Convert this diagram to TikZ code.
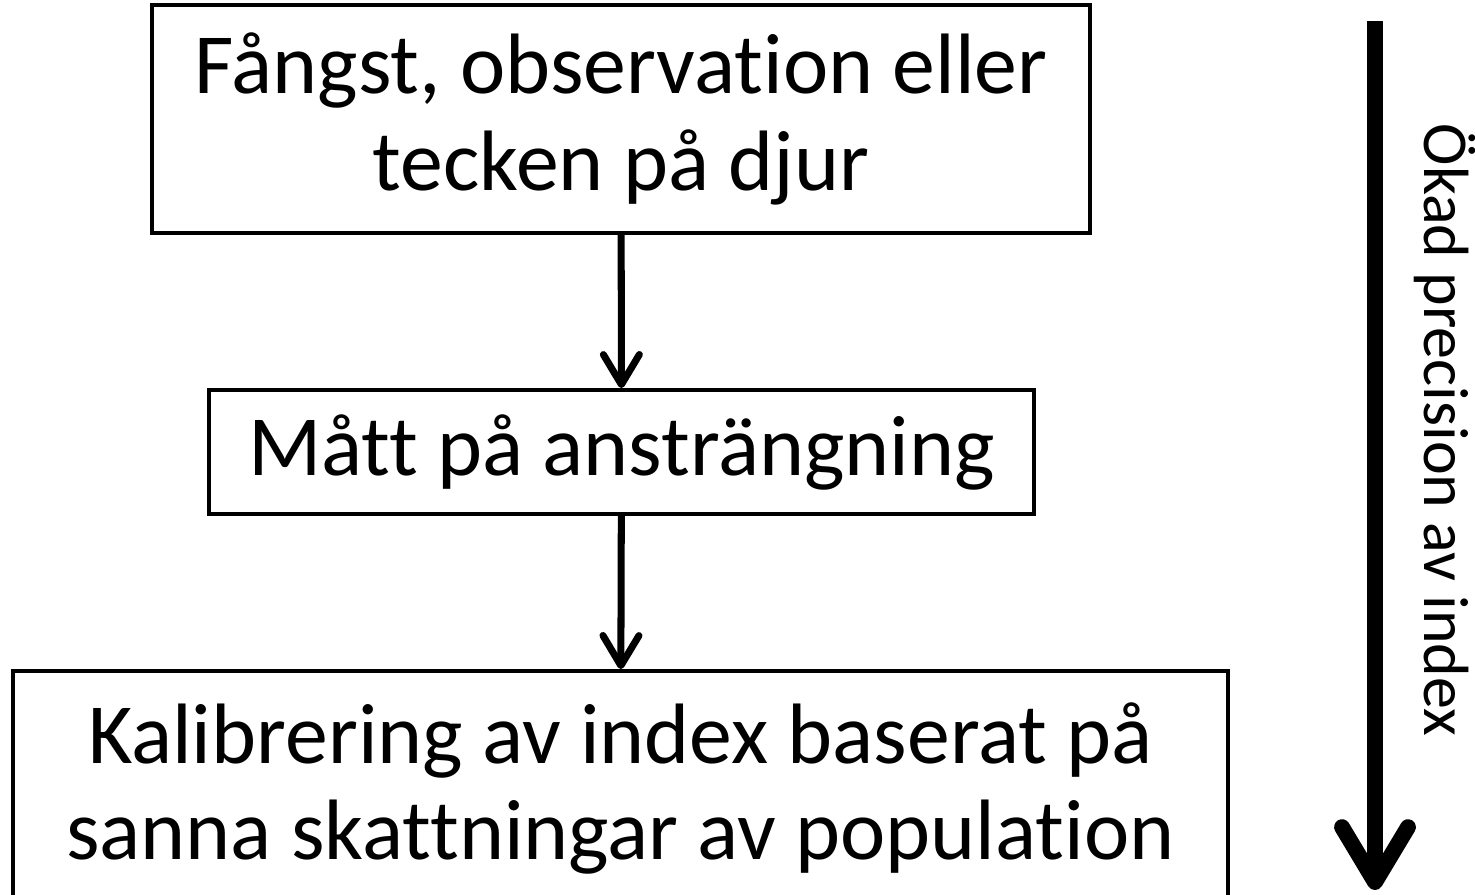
\documentclass[tikz,border=0pt]{standalone}
\usepackage{fontspec}
\setmainfont[Ligatures=NoCommon]{Carlito}
\usetikzlibrary{arrows.meta}

\tikzset{
  stage/.style={draw, line width=1.1pt, align=center, inner sep=0pt,
    font=\fontsize{24.4}{27.5}\selectfont},
  flow/.style={line width=2pt, -{Straight Barb[length=3mm, width=3.6mm, round]}},
}

\begin{document}
\begin{tikzpicture}
\useasboundingbox (0,0) rectangle (14.75,-8.94);
\clip (0,0) rectangle (14.75,-8.94);

\node[stage, minimum width=9.38cm, minimum height=2.28cm] (fangst) at (6.21,-1.19)
  {Fångst, observation eller\\tecken på djur};
\node[stage, minimum width=8.25cm, minimum height=1.24cm] (matt) at (6.215,-4.52)
  {Mått på ansträngning};
\node[stage, minimum width=12.15cm, minimum height=2.35cm] (kalib) at (6.205,-7.885)
  {Kalibrering av index baserat på\\sanna skattningar av population};

\draw[flow] (fangst) -- (matt);
\draw[flow] (matt) -- (kalib);

% precision arrow
\coordinate (top) at (13.75,-0.21);
\coordinate (bottom) at (13.75,-8.90);
\draw[line width=4.5pt, -{Straight Barb[length=5.5mm, width=6.6mm, round]}] (top) -- (bottom);
\node[rotate=-90, font=\fontsize{18.2}{21}\selectfont] (precision) at (14.45,-4.30) {Ökad precision av index};
\end{tikzpicture}
\end{document}
